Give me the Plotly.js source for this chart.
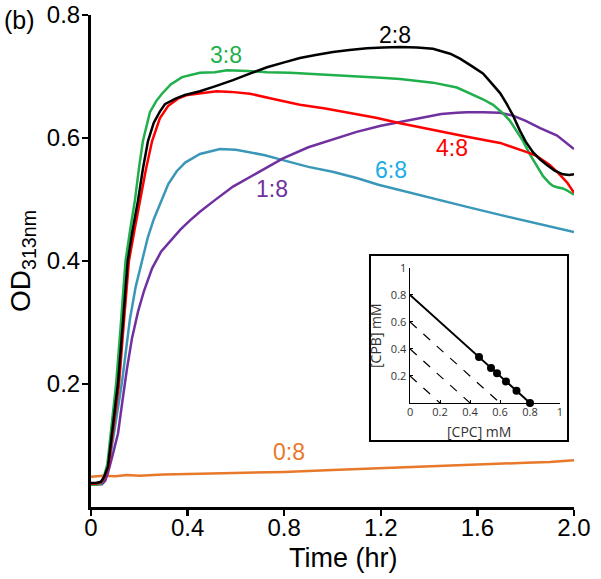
<!DOCTYPE html>
<html>
<head>
<meta charset="utf-8">
<script src="https://cdn.plot.ly/plotly-3.0.1.min.js"></script>
<style>
  html, body { margin: 0; padding: 0; background: #fff; }
  #chart { width: 601px; height: 579px; }
</style>
</head>
<body>
<div id="chart"></div>
<script>
// ---------- main chart data (Time in hr, OD313nm) ----------
const blackX = [0, 0.02, 0.041, 0.054, 0.07, 0.091, 0.112, 0.132, 0.152, 0.17, 0.195, 0.215, 0.236, 0.26, 0.285, 0.306, 0.35, 0.389, 0.451, 0.513, 0.588, 0.66, 0.729, 0.8, 0.865, 0.93, 1.002, 1.07, 1.143, 1.21, 1.28, 1.35, 1.416, 1.487, 1.528, 1.58, 1.623, 1.652, 1.694, 1.722, 1.747, 1.776, 1.80, 1.830, 1.86, 1.888, 1.92, 1.954, 1.98, 2.0];
const blackY = [0.039, 0.039, 0.041, 0.049, 0.065, 0.133, 0.202, 0.30, 0.40, 0.445, 0.499, 0.55, 0.595, 0.625, 0.643, 0.655, 0.664, 0.670, 0.676, 0.684, 0.694, 0.705, 0.715, 0.723, 0.730, 0.735, 0.740, 0.743, 0.746, 0.747, 0.748, 0.747, 0.745, 0.737, 0.729, 0.716, 0.705, 0.692, 0.673, 0.655, 0.637, 0.612, 0.594, 0.577, 0.565, 0.556, 0.547, 0.541, 0.540, 0.541];

const greenX = [0, 0.02, 0.041, 0.052, 0.068, 0.088, 0.104, 0.124, 0.143, 0.162, 0.182, 0.2, 0.215, 0.244, 0.27, 0.294, 0.33, 0.377, 0.451, 0.513, 0.563, 0.65, 0.729, 0.824, 0.92, 1.0, 1.10, 1.2, 1.28, 1.375, 1.416, 1.515, 1.557, 1.623, 1.665, 1.706, 1.735, 1.764, 1.789, 1.818, 1.847, 1.872, 1.90, 1.913, 1.93, 1.954, 1.97, 2.0];
const greenY = [0.036, 0.036, 0.038, 0.047, 0.07, 0.14, 0.20, 0.30, 0.40, 0.45, 0.499, 0.555, 0.595, 0.642, 0.660, 0.672, 0.687, 0.699, 0.706, 0.707, 0.710, 0.709, 0.707, 0.706, 0.704, 0.702, 0.701, 0.698, 0.696, 0.692, 0.690, 0.682, 0.675, 0.663, 0.654, 0.640, 0.628, 0.610, 0.595, 0.573, 0.555, 0.538, 0.526, 0.522, 0.520, 0.518, 0.515, 0.508];

const redX = [0, 0.02, 0.041, 0.054, 0.072, 0.094, 0.116, 0.136, 0.157, 0.18, 0.203, 0.228, 0.253, 0.285, 0.319, 0.36, 0.40, 0.451, 0.52, 0.58, 0.658, 0.76, 0.865, 0.97, 1.072, 1.18, 1.28, 1.416, 1.557, 1.694, 1.75, 1.805, 1.84, 1.872, 1.90, 1.93, 1.971, 2.0];
const redY = [0.038, 0.038, 0.040, 0.047, 0.065, 0.13, 0.20, 0.30, 0.40, 0.45, 0.499, 0.55, 0.595, 0.632, 0.652, 0.664, 0.670, 0.673, 0.676, 0.675, 0.672, 0.663, 0.654, 0.648, 0.641, 0.633, 0.624, 0.613, 0.602, 0.592, 0.585, 0.577, 0.572, 0.564, 0.556, 0.545, 0.528, 0.511];

const tealX = [0, 0.02, 0.045, 0.06, 0.075, 0.091, 0.11, 0.128, 0.145, 0.161, 0.185, 0.211, 0.235, 0.26, 0.29, 0.32, 0.355, 0.39, 0.451, 0.534, 0.60, 0.658, 0.72, 0.795, 0.9, 1.0, 1.1, 1.19, 1.28, 1.416, 1.557, 1.694, 1.83, 1.92, 2.0];
const tealY = [0.037, 0.037, 0.039, 0.045, 0.07, 0.11, 0.155, 0.202, 0.255, 0.305, 0.358, 0.402, 0.438, 0.468, 0.498, 0.525, 0.546, 0.560, 0.574, 0.582, 0.581, 0.577, 0.572, 0.564, 0.553, 0.545, 0.535, 0.524, 0.515, 0.502, 0.488, 0.475, 0.463, 0.455, 0.447];

const purpleX = [0, 0.02, 0.045, 0.058, 0.07, 0.09, 0.112, 0.13, 0.149, 0.17, 0.195, 0.22, 0.253, 0.29, 0.335, 0.37, 0.41, 0.451, 0.513, 0.588, 0.687, 0.795, 0.9, 1.0, 1.10, 1.2, 1.28, 1.375, 1.45, 1.515, 1.557, 1.623, 1.694, 1.75, 1.80, 1.86, 1.93, 2.0];
const purpleY = [0.036, 0.036, 0.037, 0.042, 0.055, 0.085, 0.12, 0.172, 0.225, 0.275, 0.318, 0.352, 0.388, 0.415, 0.436, 0.451, 0.466, 0.480, 0.499, 0.521, 0.543, 0.567, 0.585, 0.597, 0.61, 0.62, 0.626, 0.634, 0.639, 0.641, 0.642, 0.642, 0.641, 0.636, 0.628, 0.616, 0.604, 0.582];

const orangeX = [0, 0.05, 0.1, 0.15, 0.2, 0.3, 0.45, 0.6, 0.8, 1.0, 1.15, 1.28, 1.45, 1.6, 1.8, 1.9, 2.0];
const orangeY = [0.049, 0.051, 0.050, 0.052, 0.051, 0.053, 0.054, 0.055, 0.057, 0.060, 0.062, 0.064, 0.066, 0.069, 0.072, 0.073, 0.076];

// curve labels (ratio CPB:CPC) and their positions
const labelText = ["3:8", "2:8", "4:8", "6:8", "1:8", "0:8"];
const labelX = [0.559, 1.259, 1.495, 1.242, 0.749, 0.82];
const labelY = [0.735, 0.767, 0.584, 0.548, 0.517, 0.089];
const labelColor = ["#1FAF4B", "#000000", "#FF0000", "#1AADE8", "#7030A0", "#E8782A"];

// axis ticks
const xTickVals = [0, 0.4, 0.8, 1.2, 1.6, 2.0];
const xTickText = ["0", "0.4", "0.8", "1.2", "1.6", "2.0"];
const yTickVals = [0.2, 0.4, 0.6, 0.8];
const yTickText = ["0.2", "0.4", "0.6", "0.8"];

// ---------- inset data ([CPC] mM vs [CPB] mM) ----------
const insetSolidX = [0, 0.8];
const insetSolidY = [0.8, 0];
const insetDash1X = [0, 0.6];
const insetDash1Y = [0.6, 0];
const insetDash2X = [0, 0.4];
const insetDash2Y = [0.4, 0];
const insetDash3X = [0, 0.2];
const insetDash3Y = [0.2, 0];
const insetPtsX = [0.46, 0.54, 0.58, 0.64, 0.71, 0.80];
const insetPtsY = [0.34, 0.26, 0.22, 0.16, 0.09, 0.0];
const insetXTickVals = [0, 0.2, 0.4, 0.6, 0.8, 1];
const insetXTickText = ["0", "0.2", "0.4", "0.6", "0.8", "1"];
const insetYTickVals = [0.2, 0.4, 0.6, 0.8, 1];
const insetYTickText = ["0.2", "0.4", "0.6", "0.8", "1"];

const FONT = "Liberation Sans, Arial, sans-serif";
const IFONT = "Open Sans, sans-serif";

function curve(x, y, color) {
  return { x: x, y: y, type: "scatter", mode: "lines", xaxis: "x", yaxis: "y",
           line: { color: color, width: 2.5 },
           hoverinfo: "skip", showlegend: false };
}
function iline(x, y, dash, w) {
  return { x: x, y: y, type: "scatter", mode: "lines", xaxis: "x2", yaxis: "y2",
           line: { color: "#000", width: w, dash: dash }, hoverinfo: "skip", showlegend: false, cliponaxis: false };
}

const data = [
  curve(orangeX, orangeY, "#E8782A"),
  curve(tealX, tealY, "#3A97B8"),
  curve(purpleX, purpleY, "#7030A0"),
  curve(greenX, greenY, "#1FAF4B"),
  curve(redX, redY, "#FF0000"),
  curve(blackX, blackY, "#000000"),
  iline(insetDash1X, insetDash1Y, "dash", 1.2),
  iline(insetDash2X, insetDash2Y, "dash", 1.2),
  iline(insetDash3X, insetDash3Y, "dash", 1.2),
  iline(insetSolidX, insetSolidY, "solid", 2),
  { x: insetPtsX, y: insetPtsY, type: "scatter", mode: "markers", xaxis: "x2", yaxis: "y2",
    marker: { color: "#000", size: 8 }, cliponaxis: false, hoverinfo: "skip", showlegend: false }
];

const annotations = labelText.map((t, i) => ({
  x: labelX[i], y: labelY[i], xref: "x", yref: "y", text: t, showarrow: false,
  font: { family: FONT, size: 23, color: labelColor[i] }, xanchor: "center", yanchor: "middle"
}));
annotations.push(
  { x: -0.147, y: 0.99, xref: "paper", yref: "paper", text: "(b)", showarrow: false,
    font: { family: FONT, size: 25, color: "#000" }, xanchor: "center", yanchor: "middle" },
  { x: -0.143, y: 0.5, xref: "paper", yref: "paper", text: "OD<sub>313nm</sub>", showarrow: false, textangle: -90,
    font: { family: FONT, size: 28, color: "#000" }, xanchor: "center", yanchor: "middle" },
  { x: 0.5238, y: -0.1037, xref: "paper", yref: "paper", text: "Time (hr)", showarrow: false,
    font: { family: FONT, size: 27, color: "#000" }, xanchor: "center", yanchor: "middle" },
  { x: 0.803, y: 0.153, xref: "paper", yref: "paper", text: "[CPC] mM", showarrow: false,
    font: { family: IFONT, size: 14, color: "#333" }, xanchor: "center", yanchor: "middle" },
  { x: 0.590, y: 0.3496, xref: "paper", yref: "paper", text: "[CPB] mM", showarrow: false, textangle: -90,
    font: { family: IFONT, size: 14, color: "#333" }, xanchor: "center", yanchor: "middle" }
);

const layout = {
  width: 601, height: 579,
  margin: { l: 91, r: 27, t: 15, b: 72, pad: 0 },
  paper_bgcolor: "#fff", plot_bgcolor: "rgba(0,0,0,0)",
  showlegend: false,
  xaxis: {
    range: [0, 2.0], tickvals: xTickVals, ticktext: xTickText,
    showline: true, linecolor: "#000", linewidth: 3, mirror: false,
    ticks: "outside", ticklen: 6, tickwidth: 2.5, tickcolor: "#000",
    showgrid: false, zeroline: false, ticklabelstandoff: -9,
    tickfont: { family: FONT, size: 24, color: "#000" }, fixedrange: true
  },
  yaxis: {
    range: [0, 0.8], tickvals: yTickVals, ticktext: yTickText,
    showline: true, linecolor: "#000", linewidth: 3,
    ticks: "outside", ticklen: 6, tickwidth: 2.5, tickcolor: "#000",
    showgrid: false, zeroline: false, ticklabelstandoff: -3,
    tickfont: { family: FONT, size: 24, color: "#000" }, fixedrange: true
  },
  xaxis2: {
    domain: [0.6605, 0.971], anchor: "y2", range: [0, 1],
    tickvals: insetXTickVals, ticktext: insetXTickText,
    showline: true, linecolor: "#000", linewidth: 1.5,
    ticks: "inside", ticklen: 3, tickwidth: 1, tickcolor: "#000",
    showgrid: false, zeroline: false, ticklabelstandoff: -2,
    tickfont: { family: IFONT, size: 11, color: "#333" }
  },
  yaxis2: {
    domain: [0.2114, 0.4858], anchor: "x2", range: [0, 1],
    tickvals: insetYTickVals, ticktext: insetYTickText,
    showline: true, linecolor: "#000", linewidth: 1.5,
    ticks: "inside", ticklen: 3, tickwidth: 1, tickcolor: "#000",
    showgrid: false, zeroline: false,
    tickfont: { family: IFONT, size: 11, color: "#333" }
  },
  shapes: [
    { type: "rect", xref: "paper", yref: "paper", x0: 0.5776, x1: 0.9876, y0: 0.1341, y1: 0.5122,
      line: { color: "#000", width: 2 }, fillcolor: "#fff", layer: "below" }
  ],
  annotations: annotations
};

Plotly.newPlot("chart", data, layout, { displayModeBar: false, staticPlot: true });
</script>
</body>
</html>
